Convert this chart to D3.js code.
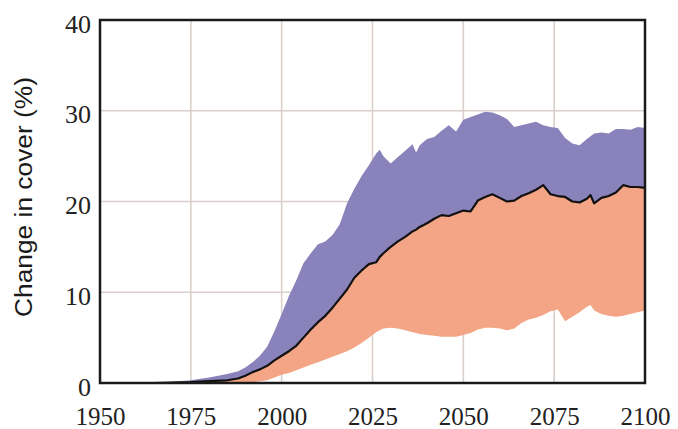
<!DOCTYPE html>
<html>
<head>
<meta charset="utf-8">
<script src="https://cdn.jsdelivr.net/npm/d3@7"></script>
<style>
  html, body { margin: 0; padding: 0; background: #ffffff; }
  svg { display: block; }
</style>
</head>
<body>
<svg id="chart" width="678" height="429"></svg>
<script>
// ---- Data ----
const years = [1950, 1960, 1965, 1970, 1975, 1980, 1985, 1988, 1990, 1992, 1994, 1996, 1998,
  2000, 2002, 2004, 2006, 2008, 2010, 2012, 2014, 2016, 2018, 2020, 2022, 2024, 2026, 2027,
  2028, 2030, 2032, 2034, 2036, 2037, 2038, 2040, 2042, 2044, 2046, 2048, 2050, 2052, 2054,
  2056, 2058, 2060, 2062, 2064, 2066, 2068, 2070, 2072, 2074, 2076, 2078, 2080, 2082, 2084,
  2085, 2086, 2088, 2090, 2092, 2094, 2096, 2098, 2100];

const upper = [0, 0, 0.05, 0.15, 0.3, 0.6, 1.0, 1.3, 1.7, 2.3, 3.0, 4.0, 5.7,
  7.6, 9.6, 11.3, 13.2, 14.3, 15.3, 15.6, 16.3, 17.5, 19.8, 21.4, 22.8, 24.0, 25.3, 25.7,
  25.0, 24.2, 24.9, 25.6, 26.3, 25.4, 26.2, 26.9, 27.1, 27.8, 28.4, 27.7, 29.0, 29.3, 29.6,
  29.9, 29.8, 29.5, 29.1, 28.2, 28.4, 28.6, 28.8, 28.4, 28.2, 28.1, 27.0, 26.4, 26.2, 26.9,
  27.2, 27.5, 27.6, 27.5, 28.0, 28.0, 27.9, 28.2, 28.1];

const middle = [0, 0, 0, 0.05, 0.1, 0.2, 0.3, 0.5, 0.8, 1.2, 1.5, 1.9, 2.5,
  3.0, 3.5, 4.1, 5.0, 5.9, 6.7, 7.4, 8.3, 9.3, 10.3, 11.6, 12.4, 13.1, 13.3, 13.9,
  14.3, 15.0, 15.6, 16.1, 16.7, 16.9, 17.2, 17.6, 18.1, 18.5, 18.4, 18.7, 19.0, 18.9, 20.1,
  20.5, 20.8, 20.4, 20.0, 20.1, 20.6, 20.9, 21.3, 21.8, 20.8, 20.6, 20.5, 20.0, 19.9, 20.3,
  20.7, 19.8, 20.4, 20.6, 21.0, 21.8, 21.6, 21.6, 21.5];

const lower = [0, 0, 0, 0, 0, 0, 0, 0, 0, 0.1, 0.2, 0.3, 0.6,
  0.9, 1.1, 1.4, 1.7, 2.0, 2.3, 2.6, 2.9, 3.2, 3.5, 3.9, 4.4, 5.0, 5.6, 5.8,
  6.0, 6.1, 6.0, 5.8, 5.6, 5.5, 5.4, 5.3, 5.2, 5.1, 5.1, 5.1, 5.3, 5.5, 5.9,
  6.1, 6.1, 6.0, 5.8, 6.0, 6.6, 7.0, 7.2, 7.5, 7.9, 8.1, 6.8, 7.3, 7.8, 8.4,
  8.6, 8.0, 7.6, 7.4, 7.3, 7.4, 7.6, 7.8, 8.0];

const xTicks = [1950, 1975, 2000, 2025, 2050, 2075, 2100];
const yTicks = [0, 10, 20, 30, 40];
const yLabel = "Change in cover (%)";

// ---- Layout ----
const svg = d3.select("#chart");
const mLeft = 100, mRight = 645, mTop = 20, mBottom = 383;

const x = d3.scaleLinear().domain([1950, 2100]).range([mLeft, mRight]);
const y = d3.scaleLinear().domain([0, 40]).range([mBottom, mTop]);

const rows = years.map((yr, i) => ({ yr, up: upper[i], mid: middle[i], lo: lower[i] }));

// Grid
const grid = svg.append("g");
grid.selectAll("line.gx").data(xTicks.slice(1, -1)).enter().append("line")
  .attr("x1", d => x(d)).attr("x2", d => x(d))
  .attr("y1", mTop).attr("y2", mBottom)
  .attr("stroke", "#d9d0cb").attr("stroke-width", 1.6);
grid.selectAll("line.gy").data(yTicks.slice(1, -1)).enter().append("line")
  .attr("x1", mLeft).attr("x2", mRight)
  .attr("y1", d => y(d)).attr("y2", d => y(d))
  .attr("stroke", "#d9d0cb").attr("stroke-width", 1.6);

// Bands
const purpleArea = d3.area().x(d => x(d.yr)).y0(d => y(d.mid)).y1(d => y(d.up));
const orangeArea = d3.area().x(d => x(d.yr)).y0(d => y(d.lo)).y1(d => y(d.mid));

svg.append("path").datum(rows).attr("d", purpleArea)
  .attr("fill", "#8a82ba").attr("stroke", "none");
svg.append("path").datum(rows).attr("d", orangeArea)
  .attr("fill", "#f3a585").attr("stroke", "none");

// Middle line
svg.append("path").datum(rows)
  .attr("d", d3.line().x(d => x(d.yr)).y(d => y(d.mid)))
  .attr("fill", "none").attr("stroke", "#111").attr("stroke-width", 2.2)
  .attr("stroke-linejoin", "round");

// Frame
svg.append("rect")
  .attr("x", mLeft).attr("y", mTop)
  .attr("width", mRight - mLeft).attr("height", mBottom - mTop)
  .attr("fill", "none").attr("stroke", "#1a1a1a").attr("stroke-width", 2.5);

// Axes tick labels (using d3 axes, domain/ticks hidden)
const xAxis = svg.append("g").attr("transform", `translate(0,${mBottom})`)
  .call(d3.axisBottom(x).tickValues(xTicks).tickFormat(d3.format("d")).tickSize(0).tickPadding(0));
xAxis.select(".domain").remove();
xAxis.selectAll("text")
  .attr("y", 42).attr("dy", null)
  .attr("font-family", "'Liberation Serif', 'Times New Roman', serif")
  .attr("font-size", 25).attr("fill", "#222");

const yAxis = svg.append("g").attr("transform", `translate(${mLeft},0)`)
  .call(d3.axisLeft(y).tickValues(yTicks).tickFormat(d3.format("d")).tickSize(0).tickPadding(0));
yAxis.select(".domain").remove();
yAxis.selectAll("text")
  .attr("x", -9).attr("dy", null).attr("y", 12)
  .attr("font-family", "'Liberation Serif', 'Times New Roman', serif")
  .attr("font-size", 26).attr("fill", "#222");

// Y axis title
svg.append("text")
  .attr("transform", "translate(32,197) rotate(-90)")
  .attr("text-anchor", "middle")
  .attr("font-family", "'Liberation Sans', Arial, sans-serif")
  .attr("font-size", 23)
  .attr("textLength", 240).attr("lengthAdjust", "spacingAndGlyphs")
  .attr("fill", "#1a1a1a")
  .text(yLabel);
</script>
</body>
</html>
